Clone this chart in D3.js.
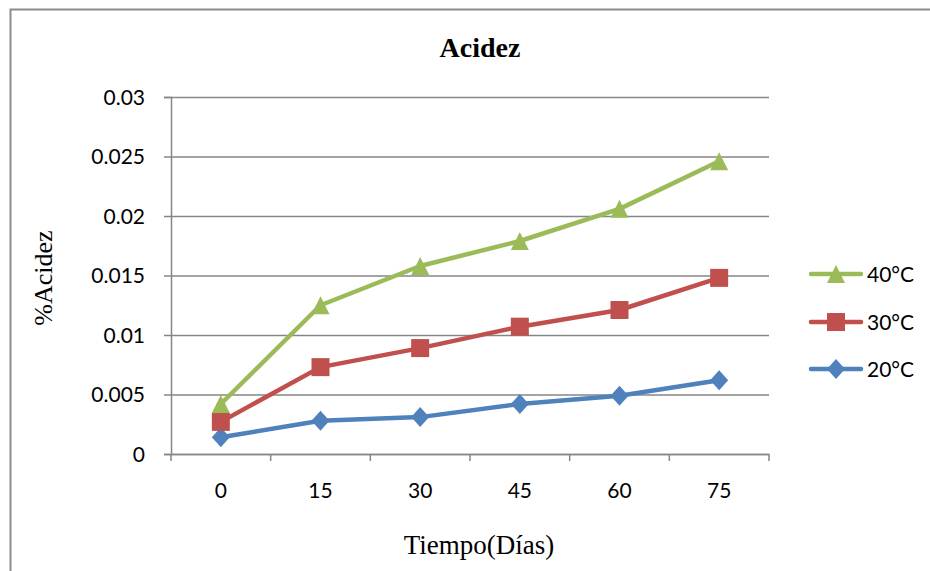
<!DOCTYPE html>
<html>
<head>
<meta charset="utf-8">
<script src="https://cdn.jsdelivr.net/npm/d3@7"></script>
<style>
  html, body { margin: 0; padding: 0; background: #fff; }
  svg { display: block; }
</style>
</head>
<body>
<svg id="chart" width="930" height="571"></svg>
<script>
// ---- Data ----
const categories = ["0", "15", "30", "45", "60", "75"];
const series40 = [0.0042, 0.0125, 0.0158, 0.0179, 0.0206, 0.0246];
const series30 = [0.0027, 0.0073, 0.0089, 0.0107, 0.0121, 0.0148];
const series20 = [0.0014, 0.0028, 0.0031, 0.0042, 0.0049, 0.0062];
const seriesNames = ["40°C", "30°C", "20°C"];
const yTickValues = [0, 0.005, 0.01, 0.015, 0.02, 0.025, 0.03];
const yTickLabels = ["0", "0.005", "0.01", "0.015", "0.02", "0.025", "0.03"];
const titleText = "Acidez";
const xTitle = "Tiempo(Días)";
const yTitle = "%Acidez";

const seriesList = [
  { name: seriesNames[0], values: series40, color: "#9BBB59", marker: "triangle" },
  { name: seriesNames[1], values: series30, color: "#C0504D", marker: "square" },
  { name: seriesNames[2], values: series20, color: "#4F81BD", marker: "diamond" }
];

const svg = d3.select("#chart");
const W = 930, H = 571;
const plot = { left: 171, right: 769, top: 97, bottom: 454 };

svg.append("rect").attr("x", 0).attr("y", 0).attr("width", W).attr("height", H).attr("fill", "#fff");

// outer frame (extends past right/bottom edges)
svg.append("rect")
  .attr("x", 10.5).attr("y", 9.5)
  .attr("width", 1000).attr("height", 1000)
  .attr("fill", "none").attr("stroke", "#8c8c8c").attr("stroke-width", 2);

const x = d3.scaleBand().domain(categories).range([plot.left, plot.right]).padding(0);
const y = d3.scaleLinear().domain([0, 0.03]).range([plot.bottom, plot.top]);
const cx = d => x(d) + x.bandwidth() / 2;

const gridColor = "#868686";

// gridlines
const grid = svg.append("g")
  .attr("transform", `translate(${plot.left},0)`)
  .call(d3.axisLeft(y).tickValues(yTickValues).tickSize(-(plot.right - plot.left)).tickFormat(""));
grid.select(".domain").remove();
grid.selectAll("line").attr("stroke", gridColor).attr("stroke-width", 1.5);

// y axis
const yAxis = svg.append("g")
  .attr("transform", `translate(${plot.left},0)`)
  .call(d3.axisLeft(y).tickValues(yTickValues).tickSize(7).tickPadding(19)
    .tickFormat((d, i) => yTickLabels[i]));
yAxis.select(".domain").attr("stroke", gridColor).attr("stroke-width", 1.5);
yAxis.selectAll("line").attr("stroke", gridColor).attr("stroke-width", 1.5);
yAxis.selectAll("text")
  .attr("font-family", "Lato, 'Open Sans', sans-serif")
  .attr("font-size", 21).attr("fill", "#000").attr("dy", "0.35em");

// x axis: line + boundary ticks
const xAxis = svg.append("g")
  .attr("transform", `translate(0,${plot.bottom})`)
  .call(d3.axisBottom(x).tickSize(0).tickPadding(29));
xAxis.select(".domain").attr("stroke", gridColor).attr("stroke-width", 1.5);
xAxis.selectAll("text")
  .attr("font-family", "Lato, 'Open Sans', sans-serif")
  .attr("font-size", 21).attr("fill", "#000");
const bounds = categories.map(d => x(d)).concat([x(categories[categories.length - 1]) + x.bandwidth()]);
svg.append("g").selectAll("line").data(bounds).join("line")
  .attr("x1", d => d).attr("x2", d => d)
  .attr("y1", plot.bottom).attr("y2", plot.bottom + 7)
  .attr("stroke", gridColor).attr("stroke-width", 1.5);

// marker generator
function drawMarker(sel, type, color) {
  const s = 9;
  if (type === "triangle") {
    sel.append("path").attr("d", `M0,${-s}L${s},${s}L${-s},${s}Z`).attr("fill", color);
  } else if (type === "square") {
    sel.append("rect").attr("x", -s).attr("y", -s).attr("width", 2 * s).attr("height", 2 * s).attr("fill", color);
  } else {
    sel.append("path").attr("d", `M0,${-s - 1}L${s},0L0,${s + 1}L${-s},0Z`).attr("fill", color);
  }
}

const line = d3.line().x((d, i) => cx(categories[i])).y(d => y(d));

// draw in order 20, 30, 40 so green on top
[...seriesList].reverse().forEach(s => {
  svg.append("path").datum(s.values)
    .attr("d", line).attr("fill", "none")
    .attr("stroke", s.color).attr("stroke-width", 4.5)
    .attr("stroke-linejoin", "round").attr("stroke-linecap", "round");
  s.values.forEach((v, i) => {
    const g = svg.append("g").attr("transform", `translate(${cx(categories[i])},${y(v)})`);
    drawMarker(g, s.marker, s.color);
  });
});

// title
svg.append("text")
  .attr("x", 480).attr("y", 57)
  .attr("text-anchor", "middle")
  .attr("font-family", "'Liberation Serif', 'Times New Roman', serif")
  .attr("font-weight", "bold").attr("font-size", 28)
  .text(titleText);

// x title
svg.append("text")
  .attr("x", 479).attr("y", 554)
  .attr("text-anchor", "middle")
  .attr("font-family", "'Liberation Serif', 'Times New Roman', serif")
  .attr("font-size", 27)
  .text(xTitle);

// y title
svg.append("text")
  .attr("transform", "translate(52,278) rotate(-90)")
  .attr("text-anchor", "middle")
  .attr("font-family", "'Liberation Serif', 'Times New Roman', serif")
  .attr("font-size", 26)
  .text(yTitle);

// legend
const legendY = [274, 322, 369];
seriesList.forEach((s, i) => {
  const g = svg.append("g").attr("transform", `translate(0,${legendY[i]})`);
  g.append("line").attr("x1", 811).attr("x2", 861).attr("y1", 0).attr("y2", 0)
    .attr("stroke", s.color).attr("stroke-width", 4.5).attr("stroke-linecap", "round");
  const m = g.append("g").attr("transform", "translate(836,0)");
  drawMarker(m, s.marker, s.color);
  g.append("text").attr("x", 867).attr("y", 0).attr("dy", "0.36em")
    .attr("font-family", "Lato, 'Open Sans', sans-serif")
    .attr("font-size", 21).attr("fill", "#000")
    .text(s.name);
});
</script>
</body>
</html>
